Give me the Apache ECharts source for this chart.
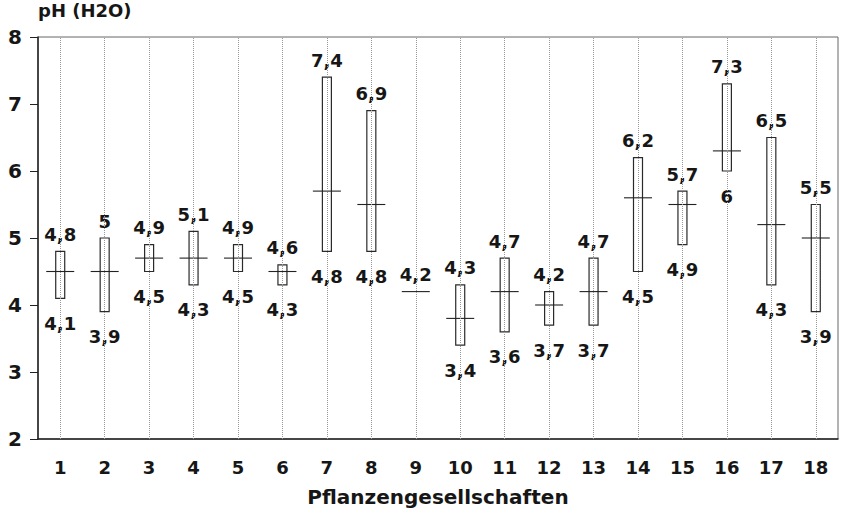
<!DOCTYPE html>
<html>
<head>
<meta charset="utf-8">
<script src="https://cdn.jsdelivr.net/npm/echarts@6/dist/echarts.min.js"></script>
<style>html,body{margin:0;padding:0;background:#fff}#c{width:848px;height:513px}</style>
</head>
<body>
<div id="c"></div>
<script>
const categories = ['1','2','3','4','5','6','7','8','9','10','11','12','13','14','15','16','17','18'];
const minVals    = [4.1,3.9,4.5,4.3,4.5,4.3,4.8,4.8,4.2,3.4,3.6,3.7,3.7,4.5,4.9,6.0,4.3,3.9];
const maxVals    = [4.8,5.0,4.9,5.1,4.9,4.6,7.4,6.9,4.2,4.3,4.7,4.2,4.7,6.2,5.7,7.3,6.5,5.5];
const medianVals = [4.5,4.5,4.7,4.7,4.7,4.5,5.7,5.5,4.2,3.8,4.2,4.0,4.2,5.6,5.5,6.3,5.2,5.0];
const yTicks = { min: 2, max: 8, interval: 1 };

const fmt = v => String(v).replace('.', ',');
const FONT = '"DejaVu Sans", "Liberation Sans", Arial, sans-serif';
const TXT = '#161616';

const boxData = categories.map((c, i) => [i, minVals[i], maxVals[i], medianVals[i]]);

const chart = echarts.init(document.getElementById('c'), null, { renderer: 'svg' });
chart.setOption({
  backgroundColor: '#fff',
  animation: false,
  grid: { left: 38, right: 10, top: 37, bottom: 74, show: true, borderColor: '#666', borderWidth: 1,
          containLabel: false, outerBoundsMode: 'none' },
  xAxis: {
    type: 'category',
    data: categories,
    boundaryGap: true,
    name: 'Pflanzengesellschaften',
    nameLocation: 'middle',
    nameGap: 48,
    nameTextStyle: { fontFamily: FONT, fontSize: 20, fontWeight: 'bold', color: TXT },
    axisLine: { lineStyle: { color: '#222', width: 1.5 } },
    axisTick: { alignWithLabel: true, length: 9, lineStyle: { color: '#222' } },
    axisLabel: { fontFamily: FONT, fontSize: 18, fontWeight: 'bold', color: TXT, margin: 19 },
    splitLine: { show: false }
  },
  yAxis: {
    type: 'value',
    min: yTicks.min, max: yTicks.max, interval: yTicks.interval,
    name: 'pH (H2O)',
    nameLocation: 'end',
    nameGap: 18,
    nameTextStyle: { fontFamily: FONT, fontSize: 18, fontWeight: 'bold', color: TXT, align: 'left' },
    axisLine: { show: true, lineStyle: { color: '#222', width: 1.5 } },
    axisTick: { show: true, length: 8, lineStyle: { color: '#222' } },
    axisLabel: { fontFamily: FONT, fontSize: 20, fontWeight: 'bold', color: TXT, margin: 16 },
    splitLine: { show: false }
  },
  series: [
    {
      type: 'custom',
      name: 'range',
      data: boxData,
      z: 4,
      markLine: {
        silent: true,
        symbol: 'none',
        label: { show: false },
        lineStyle: { color: '#999', type: 'dotted', width: 1 },
        data: categories.map((c, i) => ({ xAxis: i }))
      },
      renderItem: (params, api) => {
        const i = api.value(0);
        const vMin = api.value(1), vMax = api.value(2);
        const lo = api.coord([i, vMin]);
        const hi = api.coord([i, vMax]);
        const md = api.coord([i, api.value(3)]);
        const font = 'bold 18px ' + FONT;
        const children = [];
        if (vMax > vMin) {
          children.push({
            type: 'rect',
            shape: { x: lo[0] - 4.5, y: hi[1], width: 9, height: lo[1] - hi[1] },
            style: { fill: 'none', stroke: '#2a2a2a', lineWidth: 1.2 }
          });
        }
        children.push({
          type: 'line',
          shape: { x1: md[0] - 14, y1: md[1], x2: md[0] + 14, y2: md[1] },
          style: { stroke: '#222', lineWidth: 1.1 }
        });
        children.push({
          type: 'text',
          style: { text: fmt(vMax), x: hi[0], y: hi[1] - 8, align: 'center', verticalAlign: 'bottom', font, fill: TXT }
        });
        if (vMax > vMin) {
          children.push({
            type: 'text',
            style: { text: fmt(vMin), x: lo[0], y: lo[1] + 16, align: 'center', verticalAlign: 'top', font, fill: TXT }
          });
        }
        return { type: 'group', children };
      }
    }
  ]
});
</script>
</body>
</html>
